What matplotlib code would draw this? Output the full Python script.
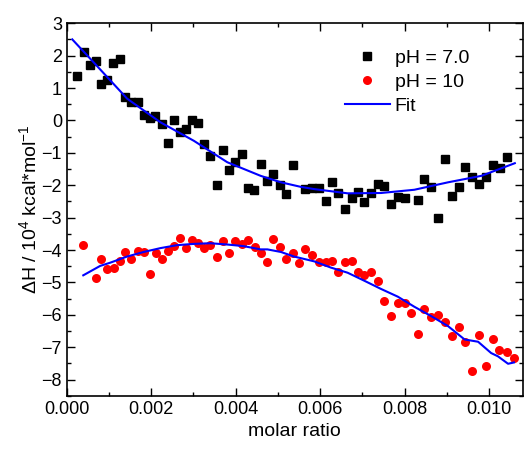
import matplotlib
matplotlib.use("Agg")
import matplotlib.pyplot as plt
from matplotlib.ticker import MultipleLocator

plt.rcParams["font.family"] = ["Liberation Sans", "DejaVu Sans"]
plt.rcParams["mathtext.default"] = "regular"

# pH = 7.0 (black squares)
x_ph7 = [0.00025, 0.0004, 0.00054, 0.00068, 0.00082, 0.00096, 0.0011, 0.00125,
         0.00139, 0.00153, 0.00168, 0.00182, 0.00196, 0.0021, 0.00225, 0.00239,
         0.00253, 0.00267, 0.00282, 0.00296, 0.0031, 0.00326, 0.0034, 0.00355,
         0.0037, 0.00385, 0.00399, 0.00415, 0.00429, 0.00443, 0.00459, 0.00475,
         0.00489, 0.00504, 0.00519, 0.00535, 0.00565, 0.00581, 0.00597, 0.00613,
         0.00627, 0.00643, 0.00659, 0.00675, 0.00689, 0.00705, 0.0072, 0.00736,
         0.00752, 0.00768, 0.00784, 0.008, 0.00831, 0.00847, 0.00863, 0.0088,
         0.00895, 0.00912, 0.00928, 0.00944, 0.0096, 0.00975, 0.00993, 0.01009,
         0.01026, 0.01042]
y_ph7 = [1.36, 2.11, 1.72, 1.84, 1.13, 1.26, 1.78, 1.90,
         0.72, 0.58, 0.58, 0.17, 0.07, 0.13, -0.12, -0.70,
         0.01, -0.37, -0.28, 0.02, -0.08, -0.72, -1.09, -1.98,
         -0.91, -1.52, -1.29, -1.05, -2.10, -2.16, -1.36, -1.87,
         -1.65, -1.98, -2.27, -1.38, -2.12, -2.08, -2.08, -2.49,
         -1.89, -2.24, -2.72, -2.39, -2.22, -2.53, -2.24, -1.96,
         -2.02, -2.58, -2.35, -2.39, -2.45, -1.81, -2.04, -3.01,
         -1.19, -2.33, -2.04, -1.44, -1.75, -1.96, -1.75, -1.38,
         -1.48, -1.13]

# pH = 10 (red circles)
x_ph10 = [0.00039, 0.00068, 0.00082, 0.00096, 0.00111, 0.00125, 0.00139, 0.00153,
          0.00168, 0.00182, 0.00196, 0.00211, 0.00225, 0.00239, 0.00253, 0.00267,
          0.00282, 0.00296, 0.0031, 0.00326, 0.0034, 0.00355, 0.0037, 0.00385,
          0.00399, 0.00415, 0.00429, 0.00445, 0.00459, 0.00475, 0.00489, 0.00504,
          0.00519, 0.00535, 0.00549, 0.00565, 0.00581, 0.00597, 0.00613, 0.00627,
          0.00643, 0.00659, 0.00675, 0.00689, 0.00705, 0.0072, 0.00736, 0.00752,
          0.00768, 0.00784, 0.008, 0.00815, 0.00831, 0.00847, 0.00863, 0.0088,
          0.00895, 0.00912, 0.00928, 0.00944, 0.0096, 0.00977, 0.00993, 0.01009,
          0.01024, 0.01042, 0.01059]
y_ph10 = [-3.84, -4.87, -4.27, -4.58, -4.54, -4.35, -4.06, -4.27,
          -4.02, -4.06, -4.74, -4.08, -4.27, -4.02, -3.88, -3.63,
          -3.94, -3.69, -3.79, -3.94, -3.83, -4.20, -3.73, -4.10,
          -3.73, -3.81, -3.69, -3.92, -4.10, -4.37, -3.67, -3.92,
          -4.29, -4.08, -4.39, -3.98, -4.14, -4.37, -4.37, -4.33,
          -4.68, -4.37, -4.35, -4.68, -4.76, -4.68, -4.97, -5.57,
          -6.04, -5.65, -5.63, -5.94, -6.58, -5.81, -6.08, -6.00,
          -6.23, -6.66, -6.39, -6.83, -7.72, -6.62, -7.59, -6.76,
          -7.10, -7.14, -7.34]

# fit curves
x_fit7 = [0.00013, 0.00063, 0.00143, 0.00222, 0.00301, 0.0038, 0.00459, 0.00507,
          0.00554, 0.00586, 0.00665, 0.00744, 0.00823, 0.00903, 0.00982, 0.01061]
y_fit7 = [2.50, 1.80, 0.67, -0.06, -0.63, -1.29, -1.71, -1.91,
          -2.05, -2.12, -2.25, -2.24, -2.14, -1.91, -1.71, -1.32]

x_fit10 = [0.00039, 0.00079, 0.00103, 0.00143, 0.00182, 0.00222, 0.00261, 0.00301,
           0.0034, 0.0038, 0.00419, 0.00459, 0.00475, 0.00507, 0.00538, 0.00554,
           0.00586, 0.00625, 0.00665, 0.00705, 0.00744, 0.00784, 0.00823, 0.00863,
           0.00903, 0.00942, 0.00974, 0.01005, 0.01021, 0.01045, 0.01059]
y_fit10 = [-4.78, -4.49, -4.39, -4.20, -4.06, -3.94, -3.85, -3.81,
           -3.79, -3.83, -3.88, -3.98, -3.98, -4.06, -4.20, -4.25,
           -4.35, -4.54, -4.70, -4.95, -5.20, -5.44, -5.75, -6.04,
           -6.35, -6.76, -6.83, -7.18, -7.28, -7.51, -7.47]

fig = plt.figure(figsize=(5.26, 4.55), dpi=100)
ax = fig.add_axes([0.127, 0.130, 0.867, 0.819])

ax.plot(x_ph7, y_ph7, "s", color="black", markersize=5.5, label="pH = 7.0")
ax.plot(x_ph10, y_ph10, "o", color="#ff0000", markersize=6.5, mec="none", label="pH = 10")
ax.plot(x_fit7, y_fit7, "-", color="#0000ff", lw=1.5, label="Fit")
ax.plot(x_fit10, y_fit10, "-", color="#0000ff", lw=1.5)

ax.set_xlim(0, 0.0108)
ax.set_ylim(-8.5, 3)
ax.xaxis.set_major_locator(MultipleLocator(0.002))
ax.xaxis.set_minor_locator(MultipleLocator(0.001))
ax.yaxis.set_major_locator(MultipleLocator(1))
ax.yaxis.set_minor_locator(MultipleLocator(0.5))
ax.xaxis.set_major_formatter(matplotlib.ticker.FormatStrFormatter("%.3f"))
ax.tick_params(which="both", direction="in", top=True, right=True, labelsize=13)
ax.tick_params(which="major", length=6, width=1)
ax.tick_params(which="minor", length=3, width=1)
for s in ax.spines.values():
    s.set_linewidth(1.2)

ax.set_xlabel("molar ratio", fontsize=14)
ax.set_ylabel("ΔH / 10$^{4}$ kcal*mol$^{-1}$", fontsize=14, labelpad=1)

ax.legend(loc="upper left", bbox_to_anchor=(345 / 526, 1 - 49 / 455),
          bbox_transform=fig.transFigure, borderaxespad=0, borderpad=0,
          frameon=False, fontsize=14, handlelength=2.3, handletextpad=0.25,
          labelspacing=0.33)

fig.savefig("out.png", dpi=100)
